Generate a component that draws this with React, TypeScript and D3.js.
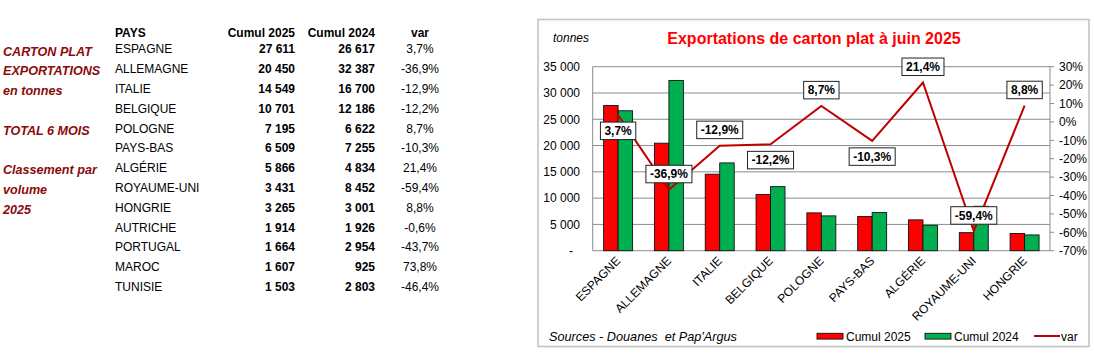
import React, { useEffect, useRef } from 'react';
import * as d3 from 'd3';

// full table (13 pays), classement par volume 2025
const pays = ['ESPAGNE', 'ALLEMAGNE', 'ITALIE', 'BELGIQUE', 'POLOGNE', 'PAYS-BAS', 'ALGÉRIE', 'ROYAUME-UNI', 'HONGRIE', 'AUTRICHE', 'PORTUGAL', 'MAROC', 'TUNISIE'];
const cumul2025 = [27611, 20450, 14549, 10701, 7195, 6509, 5866, 3431, 3265, 1914, 1664, 1607, 1503];
const cumul2024 = [26617, 32387, 16700, 12186, 6622, 7255, 4834, 8452, 3001, 1926, 2954, 925, 2803];
const variation = [3.7, -36.9, -12.9, -12.2, 8.7, -10.3, 21.4, -59.4, 8.8, -0.6, -43.7, 73.8, -46.4];

// only the first 9 are in the chart
const nChart = 9;
const labelBelow = [true, false, false, true, false, true, false, false, false];

const sideNotes = ['CARTON PLAT', 'EXPORTATIONS', 'en tonnes', '', 'TOTAL 6 MOIS', '', 'Classement par', 'volume', '2025'];
const tableHeaders = ['PAYS', 'Cumul 2025', 'Cumul 2024', 'var'];
const leftTicks = [0, 5000, 10000, 15000, 20000, 25000, 30000, 35000];
const rightTicks = [-70, -60, -50, -40, -30, -20, -10, 0, 10, 20, 30];

const chartTitle = 'Exportations de carton plat à juin 2025';
const unitLabel = 'tonnes';
const sourceNote = "Sources - Douanes\u00a0 et Pap'Argus";

const FONT = '"Liberation Sans", Arial, sans-serif';
const RED = '#ff0000';
const GREEN = '#00b050';
const LINE = '#c00000';
const NOTE = '#8b0a0a';

const fr = d3.formatLocale({ decimal: ',', thousands: '\u00a0', grouping: [3], currency: ['', ' €'] });
const fmtInt = fr.format(',d');
const fmtPct = (v: number) => v.toFixed(1).replace('.', ',') + '%';

const App: React.FC = () => {
  const svgRef = useRef<SVGSVGElement | null>(null);

  useEffect(() => {
    const svg = d3.select(svgRef.current);
    svg.selectAll('*').remove();
    svg.attr('font-family', FONT);

    // ---------- left table ----------
    const rowY = (i: number) => 49 + i * 19.8;
    const tbl = svg.append('g');
    tbl.append('text').text(tableHeaders[0]).attr('x', 115).attr('y', 36.5)
      .attr('font-size', 12).attr('font-weight', 'bold');
    tbl.append('text').text(tableHeaders[1]).attr('x', 295).attr('y', 36.5)
      .attr('text-anchor', 'end').attr('font-size', 12).attr('font-weight', 'bold');
    tbl.append('text').text(tableHeaders[2]).attr('x', 375).attr('y', 36.5)
      .attr('text-anchor', 'end').attr('font-size', 12).attr('font-weight', 'bold');
    tbl.append('text').text(tableHeaders[3]).attr('x', 420).attr('y', 36.5)
      .attr('text-anchor', 'middle').attr('font-size', 12).attr('font-weight', 'bold');

    const rows = tbl.selectAll('.row').data(pays).enter().append('g')
      .attr('transform', (_, i) => `translate(0, ${rowY(i) + 4.3})`)
      .attr('font-size', 12);
    rows.append('text').attr('x', 115).text((d) => d);
    rows.append('text').attr('x', 295).attr('text-anchor', 'end').attr('font-weight', 'bold')
      .text((_, i) => fmtInt(cumul2025[i]));
    rows.append('text').attr('x', 375).attr('text-anchor', 'end').attr('font-weight', 'bold')
      .text((_, i) => fmtInt(cumul2024[i]));
    rows.append('text').attr('x', 420).attr('text-anchor', 'middle')
      .text((_, i) => fmtPct(variation[i]));

    svg.append('g').selectAll('text').data(sideNotes).enter().append('text')
      .attr('x', 3).attr('y', (_, i) => rowY(i) + 6.5)
      .attr('font-size', 12.6).attr('font-weight', 'bold').attr('font-style', 'italic')
      .attr('fill', NOTE).text((d) => d);

    // ---------- chart ----------
    svg.append('rect').attr('x', 538).attr('y', 19.5).attr('width', 551).attr('height', 327)
      .attr('fill', 'white').attr('stroke', '#c4c4c4').attr('stroke-width', 1.6);

    const left = 592.7, right = 1050, top = 66.7, bottom = 250.7;
    const cats = pays.slice(0, nChart);

    const x0 = d3.scaleBand<string>().domain(cats).range([left, right]).paddingInner(0.43).paddingOuter(0.215);
    const x1 = d3.scaleBand<string>().domain(['2025', '2024']).range([0, x0.bandwidth()]);
    const yL = d3.scaleLinear().domain([0, 35000]).range([bottom, top]);
    const yR = d3.scaleLinear().domain([-70, 30]).range([bottom, top]);

    // gridlines
    svg.append('g').selectAll('line').data(leftTicks).enter().append('line')
      .attr('x1', left).attr('x2', right).attr('y1', (d) => yL(d)).attr('y2', (d) => yL(d))
      .attr('stroke', '#8c8c8c').attr('stroke-width', 1);
    svg.append('line').attr('x1', left).attr('x2', left).attr('y1', top).attr('y2', bottom)
      .attr('stroke', '#8c8c8c');
    svg.append('line').attr('x1', right).attr('x2', right).attr('y1', top).attr('y2', bottom)
      .attr('stroke', '#8c8c8c');

    // left axis labels (accounting style: "-" for zero, padded)
    svg.append('g').selectAll('text').data(leftTicks).enter().append('text')
      .attr('x', (d) => (d === 0 ? 573 : 580)).attr('y', (d) => yL(d) + 4.3).attr('text-anchor', 'end')
      .attr('font-size', 12).text((d) => (d === 0 ? '-' : fmtInt(d)));

    // right axis ticks + labels
    const ra = svg.append('g');
    ra.selectAll('line').data(rightTicks).enter().append('line')
      .attr('x1', right).attr('x2', right + 4).attr('y1', (d) => yR(d)).attr('y2', (d) => yR(d))
      .attr('stroke', '#8c8c8c');
    ra.selectAll('text').data(rightTicks).enter().append('text')
      .attr('x', 1059).attr('y', (d) => yR(d) + 4.3).attr('font-size', 12)
      .text((d) => d + '%');

    // bars
    const groups = svg.append('g').selectAll('g').data(cats).enter().append('g')
      .attr('transform', (d) => `translate(${x0(d)}, 0)`);
    groups.append('rect').attr('x', x1('2025')!).attr('width', x1.bandwidth())
      .attr('y', (_, i) => yL(cumul2025[i])).attr('height', (_, i) => bottom - yL(cumul2025[i]))
      .attr('fill', RED).attr('stroke', '#111').attr('stroke-width', 0.9);
    groups.append('rect').attr('x', x1('2024')!).attr('width', x1.bandwidth())
      .attr('y', (_, i) => yL(cumul2024[i])).attr('height', (_, i) => bottom - yL(cumul2024[i]))
      .attr('fill', GREEN).attr('stroke', '#111').attr('stroke-width', 0.9);

    // var line
    const cx = (d: string) => x0(d)! + x0.bandwidth() / 2;
    const line = d3.line<string>().x((d) => cx(d)).y((_, i) => yR(variation[i]));
    svg.append('path').datum(cats).attr('d', line).attr('fill', 'none')
      .attr('stroke', LINE).attr('stroke-width', 2);

    // data labels
    const lbl = svg.append('g').selectAll('g').data(cats).enter().append('g');
    lbl.each(function (d, i) {
      const g = d3.select(this);
      const t = g.append('text').text(fmtPct(variation[i])).attr('font-size', 12)
        .attr('font-weight', 'bold').attr('text-anchor', 'middle');
      const w = (t.node() as SVGTextElement).getComputedTextLength() + 8;
      const h = 17.5;
      const py = yR(variation[i]);
      const boxTop = labelBelow[i] ? py + 7 : py - 7 - h;
      g.insert('rect', 'text').attr('x', cx(d) - w / 2).attr('y', boxTop)
        .attr('width', w).attr('height', h).attr('fill', 'white')
        .attr('stroke', '#222').attr('stroke-width', 1);
      t.attr('x', cx(d)).attr('y', boxTop + h / 2 + 4.3);
    });

    // category labels
    svg.append('g').selectAll('text').data(cats).enter().append('text')
      .attr('transform', (d) => `translate(${cx(d) + 3}, ${bottom + 11}) rotate(-45)`)
      .attr('text-anchor', 'end').attr('font-size', 12).text((d) => d);

    // titles
    svg.append('text').text(chartTitle).attr('x', 814).attr('y', 44)
      .attr('text-anchor', 'middle').attr('font-size', 16).attr('font-weight', 'bold').attr('fill', RED);
    svg.append('text').text(unitLabel).attr('x', 553).attr('y', 42)
      .attr('font-size', 12).attr('font-style', 'italic');

    // bottom: source + legend
    svg.append('text').text(sourceNote).attr('x', 549).attr('y', 340.5)
      .attr('font-size', 12.7).attr('font-style', 'italic');
    const legend = [
      { label: 'Cumul 2025', color: RED, x: 817, kind: 'rect' },
      { label: 'Cumul 2024', color: GREEN, x: 925, kind: 'rect' },
      { label: 'var', color: LINE, x: 1034, kind: 'line' },
    ];
    const lg = svg.append('g').selectAll('g').data(legend).enter().append('g');
    lg.filter((d) => d.kind === 'rect').append('rect').attr('x', (d) => d.x).attr('y', 333.3)
      .attr('width', 26).attr('height', 5.8).attr('fill', (d) => d.color)
      .attr('stroke', '#111').attr('stroke-width', 0.9);
    lg.filter((d) => d.kind === 'line').append('line').attr('x1', (d) => d.x).attr('x2', (d) => d.x + 26)
      .attr('y1', 336).attr('y2', 336).attr('stroke', (d) => d.color).attr('stroke-width', 2);
    lg.append('text').attr('x', (d) => d.x + (d.kind === 'rect' ? 29 : 27)).attr('y', 340.5)
      .attr('font-size', 12).text((d) => d.label);
  }, []);

  return (
    <svg ref={svgRef} width={1094} height={360}
      style={{ position: 'absolute', left: 0, top: 0, background: 'white' }} />
  );
};

export default App;
